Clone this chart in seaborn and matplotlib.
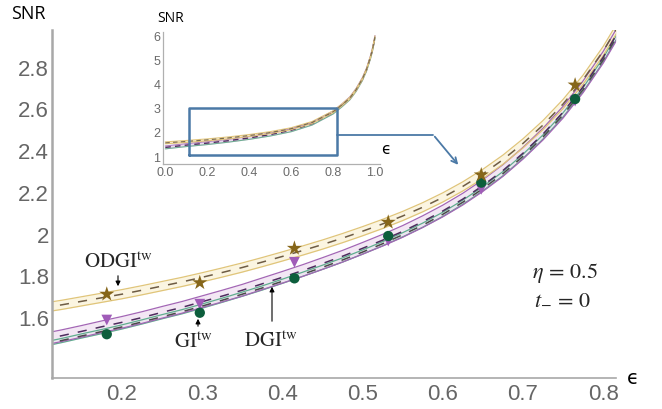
import numpy as np
import pandas as pd
import matplotlib
matplotlib.use("Agg")
import matplotlib.pyplot as plt
from matplotlib.ticker import MultipleLocator
import seaborn as sns

# ---------------- data ----------------
eps_grid = [0.100, 0.125, 0.150, 0.175, 0.200, 0.225, 0.250, 0.275, 0.300, 0.325,
            0.350, 0.375, 0.400, 0.425, 0.450, 0.475, 0.500, 0.525, 0.550, 0.575,
            0.600, 0.625, 0.650, 0.675, 0.700, 0.725, 0.750, 0.775, 0.800, 0.825]
odgi_mid = [1.648, 1.663, 1.680, 1.697, 1.714, 1.733, 1.753, 1.773, 1.795, 1.818,
            1.842, 1.868, 1.895, 1.923, 1.952, 1.983, 2.016, 2.051, 2.089, 2.131,
            2.178, 2.231, 2.291, 2.359, 2.437, 2.525, 2.626, 2.743, 2.880, 3.040]
gi_mid = [1.496, 1.515, 1.536, 1.558, 1.579, 1.602, 1.627, 1.651, 1.678, 1.705,
          1.733, 1.764, 1.795, 1.827, 1.861, 1.896, 1.934, 1.973, 2.015, 2.062,
          2.113, 2.170, 2.235, 2.307, 2.390, 2.482, 2.587, 2.709, 2.850, 3.014]
dgi_mid = [1.472, 1.492, 1.514, 1.535, 1.557, 1.581, 1.606, 1.630, 1.657, 1.685,
           1.714, 1.744, 1.776, 1.809, 1.843, 1.878, 1.916, 1.956, 1.999, 2.045,
           2.097, 2.155, 2.220, 2.292, 2.375, 2.468, 2.574, 2.695, 2.837, 3.002]
odgi_halfwidth = 0.022
gi_halfwidth = 0.028
dgi_halfwidth = 0.010

# simulated points
eps_pts = [0.181, 0.297, 0.415, 0.532, 0.648, 0.765]
odgi_pts = [1.714, 1.769, 1.934, 2.059, 2.286, 2.717]
gi_pts = [1.590, 1.666, 1.867, 1.969, 2.217, 2.640]
dgi_pts = [1.522, 1.625, 1.790, 1.993, 2.249, 2.650]

# inset (full range)
eps_in = [0.0, 0.1, 0.2, 0.3, 0.4, 0.5, 0.6, 0.7, 0.8, 0.84, 0.88, 0.91, 0.94, 0.96, 0.98, 0.99, 1.0]
odgi_in = [1.59, 1.648, 1.714, 1.795, 1.895, 2.016, 2.178, 2.437, 2.88, 3.15, 3.45, 3.80, 4.25, 4.65, 5.20, 5.55, 6.00]
gi_in = [1.40, 1.495, 1.579, 1.678, 1.795, 1.934, 2.113, 2.390, 2.85, 3.13, 3.44, 3.79, 4.24, 4.64, 5.19, 5.54, 5.99]

x_ticks_main = [0.2, 0.3, 0.4, 0.5, 0.6, 0.7, 0.8]
y_ticks_main = [1.6, 1.8, 2.0, 2.2, 2.4, 2.6, 2.8]
y_ticklabels_main = ["1.6", "1.8", "2", "2.2", "2.4", "2.6", "2.8"]
x_ticks_in = [0.0, 0.2, 0.4, 0.6, 0.8, 1.0]
y_ticks_in = [1, 2, 3, 4, 5, 6]
zoom_box = (0.114, 1.08, 0.82, 3.04)  # x0, y0, x1, y1 in inset data coords

# ---------------- styling ----------------
sns.set_style("white")
plt.rcParams["font.family"] = ["Liberation Sans", "DejaVu Sans"]
plt.rcParams["mathtext.fontset"] = "stix"

W, H = 662, 409
fig = plt.figure(figsize=(W / 100, H / 100), dpi=100)


def fx(x):
    return x / W


def fy(y):
    return 1 - y / H


ax = fig.add_axes([fx(52), fy(378), (616 - 52) / W, (378 - 30) / H])

df = pd.DataFrame({"eps": eps_grid, "odgi": odgi_mid, "gi": gi_mid, "dgi": dgi_mid})
e = np.array(eps_grid)

bands = [
    ("dgi", dgi_halfwidth, "#dcefe6", "#5fae8e", "#4a4a4a"),
    ("gi", gi_halfwidth, "#f1e3f3", "#a366b5", "#4e2c5e"),
    ("odgi", odgi_halfwidth, "#fbf4dc", "#e0c57a", "#6e5c44"),
]
for name, hw, fill, edge, dash in bands:
    m = df[name].to_numpy()
    ax.fill_between(e, m - hw, m + hw, color=fill, alpha=0.85, lw=0, zorder=1)
    sns.lineplot(x=e, y=m + hw, ax=ax, color=edge, lw=0.9, zorder=2)
    sns.lineplot(x=e, y=m - hw, ax=ax, color=edge, lw=0.9, zorder=2)
    sns.lineplot(x=e, y=m, ax=ax, color=dash, lw=1.1, zorder=3, dashes=False,
                 linestyle=(0, (6, 6)))

sns.scatterplot(x=eps_pts, y=gi_pts, ax=ax, marker="v", s=60, color="#a05cb8",
                edgecolor="none", zorder=5)
sns.scatterplot(x=eps_pts, y=dgi_pts, ax=ax, marker="o", s=55, color="#0d5e3c",
                edgecolor="none", zorder=6)
sns.scatterplot(x=eps_pts, y=odgi_pts, ax=ax, marker="*", s=130, color="#86661a",
                edgecolor="none", zorder=7)

ax.set_xlim(0.1127, 0.816)
ax.set_ylim(1.312, 2.981)
ax.set_xticks(x_ticks_main)
ax.set_xticklabels([f"{v:.1f}" for v in x_ticks_main])
ax.set_yticks(y_ticks_main)
ax.set_yticklabels(y_ticklabels_main)
ax.xaxis.set_minor_locator(MultipleLocator(0.02))
ax.tick_params(axis="both", which="major", direction="in", length=5, width=1,
               color="#9a9a9a", labelsize=16, labelcolor="#666666", pad=4)
ax.tick_params(axis="x", which="minor", direction="in", length=3, width=0.8,
               color="#9a9a9a")
ax.tick_params(axis="y", which="major", pad=2)
for s in ["top", "right"]:
    ax.spines[s].set_visible(False)
ax.spines["left"].set_color("#a8a8a8")
ax.spines["left"].set_linewidth(1.8)
ax.spines["bottom"].set_color("#a8a8a8")
ax.spines["bottom"].set_linewidth(1.2)
ax.set_xlabel("")
ax.set_ylabel("")

fig.text(fx(28), fy(14), "SNR", fontsize=13, color="black", ha="center", va="center",
         family=["Open Sans", "DejaVu Sans"])
fig.text(fx(633), fy(378), "\u03f5", fontsize=14, color="black", ha="center", va="center",
         family=["DejaVu Sans"])

# labels with arrows
fig.text(fx(118), fy(262), r"$\mathrm{ODGI}^{\mathrm{tw}}$", fontsize=15, ha="center", va="center")
ax.annotate("", xy=(fx(118), fy(289)), xytext=(fx(118), fy(273)),
            xycoords="figure fraction", textcoords="figure fraction",
            arrowprops=dict(arrowstyle="-|>", color="black", lw=0.8, mutation_scale=7))
fig.text(fx(193), fy(342), r"$\mathrm{GI}^{\mathrm{tw}}$", fontsize=15, ha="center", va="center")
ax.annotate("", xy=(fx(198), fy(316)), xytext=(fx(198), fy(329)),
            xycoords="figure fraction", textcoords="figure fraction",
            arrowprops=dict(arrowstyle="-|>", color="black", lw=0.8, mutation_scale=7))
fig.text(fx(271), fy(341), r"$\mathrm{DGI}^{\mathrm{tw}}$", fontsize=15, ha="center", va="center")
ax.annotate("", xy=(fx(272), fy(284)), xytext=(fx(272), fy(324)),
            xycoords="figure fraction", textcoords="figure fraction",
            arrowprops=dict(arrowstyle="-|>", color="black", lw=0.8, mutation_scale=7))

fig.text(fx(565), fy(273), r"$\eta\,=\,0.5$", fontsize=16, ha="center", va="center")
fig.text(fx(563), fy(299), r"$t_{-}\,=\,0$", fontsize=16, ha="center", va="center")

# ---------------- inset ----------------
axi = fig.add_axes([fx(163), fy(164), (380 - 163) / W, (164 - 32) / H])
ei = np.array(eps_in)
gin = np.array(gi_in)
oin = np.array(odgi_in)
axi.fill_between(ei, gin - 0.06, gin + 0.06, color="#ead8ee", lw=0)
axi.fill_between(ei, oin - 0.04, oin + 0.04, color="#f8efd2", lw=0)
sns.lineplot(x=ei, y=gin - 0.06, ax=axi, color="#6fae93", lw=0.8)
sns.lineplot(x=ei, y=gin + 0.06, ax=axi, color="#b07cc0", lw=0.8)
sns.lineplot(x=ei, y=gin, ax=axi, color="#4e2c5e", lw=1.0, linestyle=(0, (4, 3)))
sns.lineplot(x=ei, y=oin + 0.04, ax=axi, color="#e2c67c", lw=0.8)
sns.lineplot(x=ei, y=oin - 0.04, ax=axi, color="#e2c67c", lw=0.8)
sns.lineplot(x=ei, y=oin, ax=axi, color="#7a6a4e", lw=0.8, linestyle=(0, (4, 3)))

x0, y0, x1, y1 = zoom_box
axi.plot([x0, x1, x1, x0, x0], [y0, y0, y1, y1, y0], color="#4b79a6", lw=1.8, zorder=5)

axi.set_xlim(-0.011, 1.024)
axi.set_ylim(0.71, 6.2)
axi.set_xticks(x_ticks_in)
axi.set_xticklabels([f"{v:.1f}" for v in x_ticks_in])
axi.set_yticks(y_ticks_in)
axi.xaxis.set_minor_locator(MultipleLocator(0.05))
axi.tick_params(axis="both", which="major", direction="in", length=3, width=0.8,
                color="#a0a0a0", labelsize=9, labelcolor="#6a6a6a", pad=2)
axi.tick_params(axis="x", which="minor", direction="in", length=2, width=0.6, color="#a0a0a0")
for s in ["top", "right"]:
    axi.spines[s].set_visible(False)
for s in ["left", "bottom"]:
    axi.spines[s].set_color("#b0b0b0")
    axi.spines[s].set_linewidth(0.9)
axi.patch.set_alpha(0)
axi.set_xlabel("")
axi.set_ylabel("")

fig.text(fx(171), fy(19), "SNR", fontsize=10, color="black", ha="center", va="center",
         family=["Open Sans", "DejaVu Sans"])
fig.text(fx(386), fy(149), "\u03f5", fontsize=11, color="black", ha="center", va="center",
         family=["DejaVu Sans"])

# connector from zoom box to main curve
fig.add_artist(plt.Line2D([fx(337), fx(433)], [fy(134.5), fy(134.5)], color="#4b79a6",
                          lw=1.3, transform=fig.transFigure))
fig.add_artist(matplotlib.patches.FancyArrowPatch(
    (fx(433), fy(134.5)), (fx(460), fy(167)), transform=fig.transFigure,
    arrowstyle="->", mutation_scale=10, color="#4b79a6", lw=1.3))

fig.savefig("out.png", dpi=100)
